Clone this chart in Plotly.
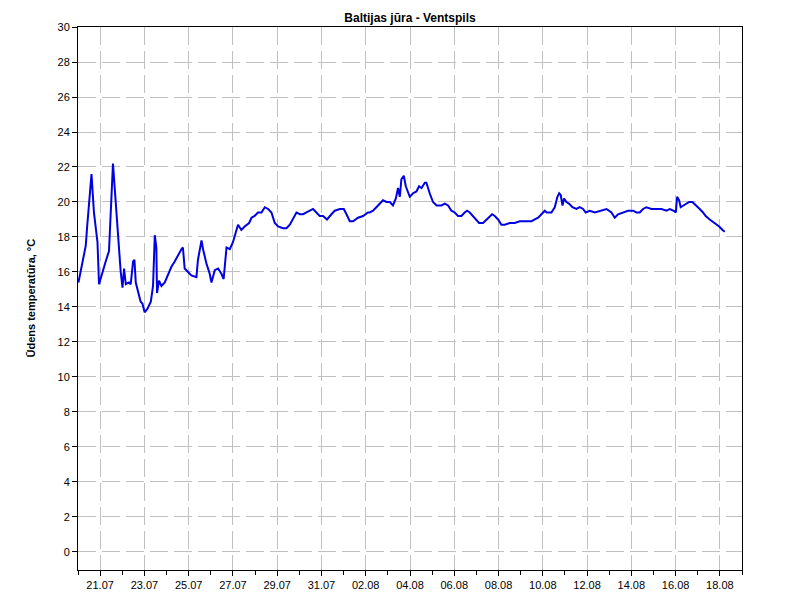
import pandas as pd
import plotly.graph_objects as go

# Time offsets (days since 20.07 00:00) and water temperature (°C)
day_offset = [
    0.02, 0.20, 0.35, 0.42, 0.61, 0.72, 0.88, 0.95, 1.10, 1.25, 1.40, 1.51, 1.58, 1.67,
    1.78, 1.85, 1.93, 2.01, 2.08, 2.16, 2.30, 2.38, 2.49, 2.55, 2.61, 2.73, 2.83, 2.91,
    3.01, 3.14, 3.29, 3.39, 3.47, 3.54, 3.57, 3.66, 3.77, 3.92, 4.07, 4.22, 4.37, 4.52,
    4.67, 4.74, 4.82, 4.97, 5.12, 5.35, 5.42, 5.58, 5.65, 5.80, 5.95, 6.03, 6.18, 6.33,
    6.48, 6.58, 6.71, 6.86, 7.00, 7.16, 7.23, 7.38, 7.53, 7.73, 7.84, 7.98, 8.13, 8.29,
    8.44, 8.59, 8.74, 8.89, 9.04, 9.26, 9.42, 9.57, 9.72, 9.87, 10.02, 10.17, 10.32,
    10.47, 10.62, 10.77, 10.92, 11.07, 11.25, 11.45, 11.60, 11.83, 12.01, 12.13, 12.28,
    12.43, 12.65, 12.88, 13.10, 13.18, 13.33, 13.48, 13.63, 13.78, 13.94, 14.09, 14.23,
    14.36, 14.46, 14.54, 14.61, 14.72, 14.81, 14.91, 14.99, 15.14, 15.29, 15.41, 15.52,
    15.67, 15.74, 15.89, 16.04, 16.20, 16.42, 16.57, 16.72, 16.87, 17.02, 17.17, 17.32,
    17.47, 17.58, 17.70, 17.93, 18.12, 18.30, 18.53, 18.71, 18.83, 18.98, 19.13, 19.28,
    19.51, 19.73, 19.96, 20.11, 20.26, 20.49, 20.64, 20.79, 20.94, 21.09, 21.17, 21.27,
    21.39, 21.54, 21.66, 21.74, 21.81, 21.89, 21.96, 22.07, 22.19, 22.34, 22.52, 22.67,
    22.82, 22.94, 23.12, 23.35, 23.57, 23.88, 24.10, 24.25, 24.40, 24.63, 24.85, 25.08,
    25.23, 25.38, 25.53, 25.68, 25.91, 26.13, 26.36, 26.59, 26.74, 26.92, 27.01, 27.07,
    27.16, 27.23, 27.34, 27.46, 27.61, 27.76, 27.94, 28.09, 28.24, 28.36, 28.54, 28.77,
    28.97, 29.12, 29.22,
]
temperature = [
    15.4, 16.6, 17.5, 18.7, 21.6, 19.4, 17.7, 15.3, 16.0, 16.6, 17.2, 20.6, 22.2, 20.6,
    18.9, 17.4, 16.0, 15.1, 16.2, 15.3, 15.4, 15.3, 16.6, 16.7, 15.4, 14.7, 14.3, 14.2,
    13.7, 13.9, 14.3, 15.2, 18.1, 17.4, 14.8, 15.5, 15.2, 15.4, 15.9, 16.3, 16.6, 17.0,
    17.3, 17.4, 16.2, 16.0, 15.8, 15.7, 16.7, 17.8, 17.3, 16.5, 15.9, 15.4, 16.1, 16.2,
    15.9, 15.6, 17.4, 17.3, 17.7, 18.4, 18.7, 18.4, 18.6, 18.8, 19.1, 19.2, 19.4, 19.4,
    19.7, 19.6, 19.4, 18.8, 18.6, 18.5, 18.5, 18.7, 19.1, 19.4, 19.3, 19.3, 19.4,
    19.5, 19.6, 19.4, 19.2, 19.2, 19.0, 19.3, 19.5, 19.6, 19.6, 19.3, 18.9,
    18.9, 19.1, 19.2, 19.4, 19.4, 19.5, 19.7, 19.9, 20.1, 20.0, 20.0, 19.8,
    20.2, 20.8, 20.3, 21.3, 21.5, 20.9, 20.6, 20.3, 20.5, 20.6, 20.9, 20.8,
    21.1, 21.1, 20.5, 20.0, 19.8, 19.8, 19.9, 19.8, 19.5, 19.4, 19.2, 19.2,
    19.4, 19.5, 19.4, 19.1, 18.8, 18.8, 19.1, 19.3, 19.2, 19.0, 18.7, 18.7,
    18.8, 18.8, 18.9, 18.9, 18.9, 18.9, 19.0, 19.1, 19.3, 19.5, 19.4, 19.4,
    19.4, 19.7, 20.3, 20.5, 20.4, 19.8, 20.2, 20.0, 19.9, 19.7, 19.6, 19.7,
    19.6, 19.4, 19.5, 19.4, 19.5, 19.6, 19.4, 19.1, 19.3, 19.4, 19.5, 19.5,
    19.4, 19.4, 19.6, 19.7, 19.6, 19.6, 19.6, 19.5, 19.6, 19.5, 19.4, 20.3,
    20.1, 19.7, 19.8, 19.9, 20.0, 20.0, 19.8, 19.6, 19.4, 19.2, 19.0, 18.8,
    18.6, 18.4, 18.3,
]

start = pd.Timestamp("2023-07-20 00:00")
times = start + pd.to_timedelta(day_offset, unit="D")

title_text = "Baltijas jūra - Ventspils"
y_title = "Ūdens temperatūra, °C"

FONT = "Liberation Sans, Arial, sans-serif"

fig = go.Figure()
fig.add_trace(go.Scatter(
    x=times, y=temperature, mode="lines",
    line=dict(color="rgb(0,0,225)", width=2),
    showlegend=False,
))

grid = dict(showgrid=True, gridcolor="#c0c0c0", gridwidth=1, griddash="18px,6px")

# page body has an 8px margin, so the margins are offset by 8px
fig.update_layout(
    width=800, height=600,
    margin=dict(l=70, r=66, t=19, b=38),
    paper_bgcolor="white", plot_bgcolor="white",
    font=dict(family=FONT, size=11, color="#000000"),
    title=dict(text="<b>" + title_text + "</b>", x=0.5, xref="paper", xanchor="center",
               y=1 - 10 / 600, yref="container", yanchor="middle",
               font=dict(family=FONT, size=12, color="#000000")),
    annotations=[dict(text="<b>" + y_title + "</b>", textangle=-90,
                      xref="paper", yref="paper", x=-48 / 664, y=0.5,
                      xanchor="center", yanchor="middle", showarrow=False,
                      font=dict(family=FONT, size=11, color="#000000"))],
)

fig.update_xaxes(
    type="date",
    range=[start, start + pd.Timedelta(days=30)],
    tick0=start + pd.Timedelta(days=1), dtick=2 * 86400000,
    tickformat="%d.%m",
    ticks="outside", ticklen=5, tickcolor="black",
    showline=True, linecolor="black", linewidth=1, mirror=True,
    minor=dict(dtick=86400000, tick0=start, ticks="outside", ticklen=4, tickcolor="black", showgrid=False),
    zeroline=False,
    **grid,
)
fig.update_yaxes(
    range=[-1.03, 30],
    tick0=0, dtick=2,
    ticks="outside", ticklen=5, tickcolor="black",
    showline=True, linecolor="black", linewidth=1, mirror=True,
    zeroline=False,
    **grid,
)

fig.write_html("out.html")
